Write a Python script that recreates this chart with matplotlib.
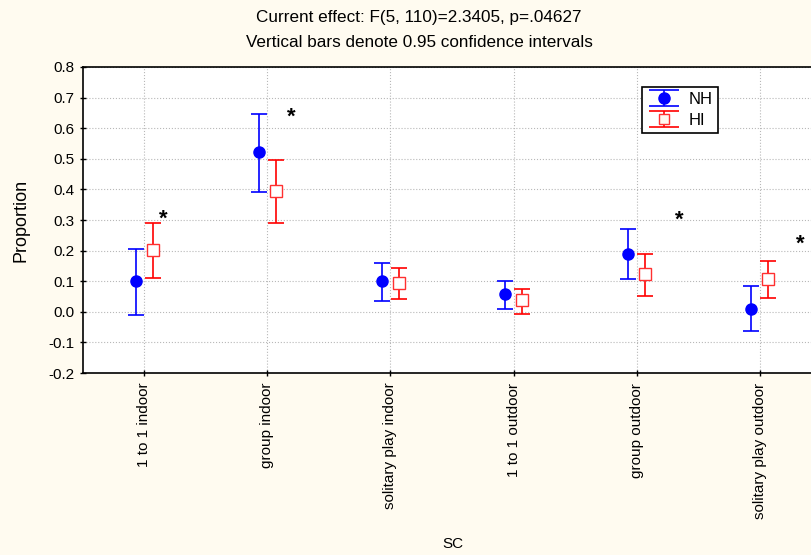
import matplotlib.pyplot as plt
import numpy as np
from matplotlib.legend_handler import HandlerErrorbar

plt.rcParams['font.family'] = ['Liberation Sans', 'DejaVu Sans']

# categories and values
categories = ["1 to 1 indoor", "group indoor", "solitary play indoor",
              "1 to 1 outdoor", "group outdoor", "solitary play outdoor"]

nh_mean = [0.100, 0.521, 0.100, 0.057, 0.189, 0.010]
nh_low = [-0.011, 0.392, 0.036, 0.008, 0.106, -0.063]
nh_high = [0.205, 0.647, 0.158, 0.102, 0.271, 0.083]

hi_mean = [0.202, 0.395, 0.094, 0.038, 0.123, 0.107]
hi_low = [0.110, 0.289, 0.042, -0.006, 0.051, 0.046]
hi_high = [0.289, 0.497, 0.143, 0.074, 0.190, 0.167]

# significance stars (x in category units, y in data units)
star_x = [0.15, 1.19, 4.35, 5.33]
star_y = [0.314, 0.648, 0.311, 0.235]

bg = '#FFFBF0'
blue = '#0000FF'
red = '#FF0000'

fig = plt.figure(figsize=(8.12, 5.55), dpi=100, facecolor=bg)
ax = fig.add_axes([0.1022, 0.3279, 0.9089, 0.5514])
ax.set_facecolor('white')

x = np.arange(len(categories))
off = 0.073

nh_mean = np.array(nh_mean)
hi_mean = np.array(hi_mean)
nh_err = [nh_mean - np.array(nh_low), np.array(nh_high) - nh_mean]
hi_err = [hi_mean - np.array(hi_low), np.array(hi_high) - hi_mean]

ax.errorbar(x - off, nh_mean, yerr=nh_err, fmt='o', color=blue,
            markersize=8, elinewidth=1.2, capsize=6, capthick=1.2, zorder=3)
ax.errorbar(x + off, hi_mean, yerr=hi_err, fmt='s', color=red,
            markerfacecolor='white', markeredgecolor='#FF3030',
            markersize=8, elinewidth=1.2, capsize=6, capthick=1.2, zorder=3)

# legend proxies with wide caps like the reference legend
nh_proxy = ax.errorbar([np.nan], [np.nan], yerr=[[0.1], [0.1]], fmt='o',
                       color=blue, markersize=8, elinewidth=1.2, capsize=11,
                       capthick=1.2)
hi_proxy = ax.errorbar([np.nan], [np.nan], yerr=[[0.1], [0.1]], fmt='s',
                       color=red, markerfacecolor='#FFF8F0',
                       markeredgecolor='#FF3030', markersize=7,
                       elinewidth=1.2, capsize=11, capthick=1.2)

for sx, sy in zip(star_x, star_y):
    ax.text(sx, sy - 0.013, '*', fontsize=16, fontweight='bold',
            ha='center', va='center', color='black')

ax.set_xlim(-0.5, 5.5)
ax.set_ylim(-0.2, 0.8)
yt = np.arange(-0.2, 0.81, 0.1)
ax.set_yticks(yt)
ax.set_yticklabels([f"{v:.1f}" for v in yt])
ax.set_xticks(x)
ax.set_xticklabels(categories, rotation=90)
ax.tick_params(axis='both', labelsize=11, direction='inout', length=4,
               width=1, color='black')
ax.tick_params(axis='x', pad=5)
ax.tick_params(axis='y', pad=4)
ax.grid(True, linestyle=':', color='#B8B8B8', linewidth=0.8)
for s in ax.spines.values():
    s.set_linewidth(1.2)

ax.set_ylabel('Proportion', fontsize=13, labelpad=14)
ax.set_xlabel('SC', fontsize=11)
ax.xaxis.set_label_coords((453 - 83) / 738, -0.535)

fig.text(0.516, 0.969, 'Current effect: F(5, 110)=2.3405, p=.04627',
         ha='center', va='center', fontsize=12.3)
fig.text(0.516, 0.924, 'Vertical bars denote 0.95 confidence intervals',
         ha='center', va='center', fontsize=12.3)

leg = ax.legend([nh_proxy, hi_proxy], ['NH', 'HI'], loc='upper left',
                bbox_to_anchor=(642 / 812, 1 - 87 / 555),
                bbox_transform=fig.transFigure, fontsize=12, frameon=True,
                fancybox=False, framealpha=1, borderpad=0.3,
                handletextpad=0.5, handlelength=2.0, labelspacing=0.35,
                borderaxespad=0,
                handler_map={type(nh_proxy): HandlerErrorbar(yerr_size=0.48)})
leg.get_frame().set_edgecolor('black')
leg.get_frame().set_linewidth(1.2)

fig.savefig('out.png', dpi=100, facecolor=bg)
